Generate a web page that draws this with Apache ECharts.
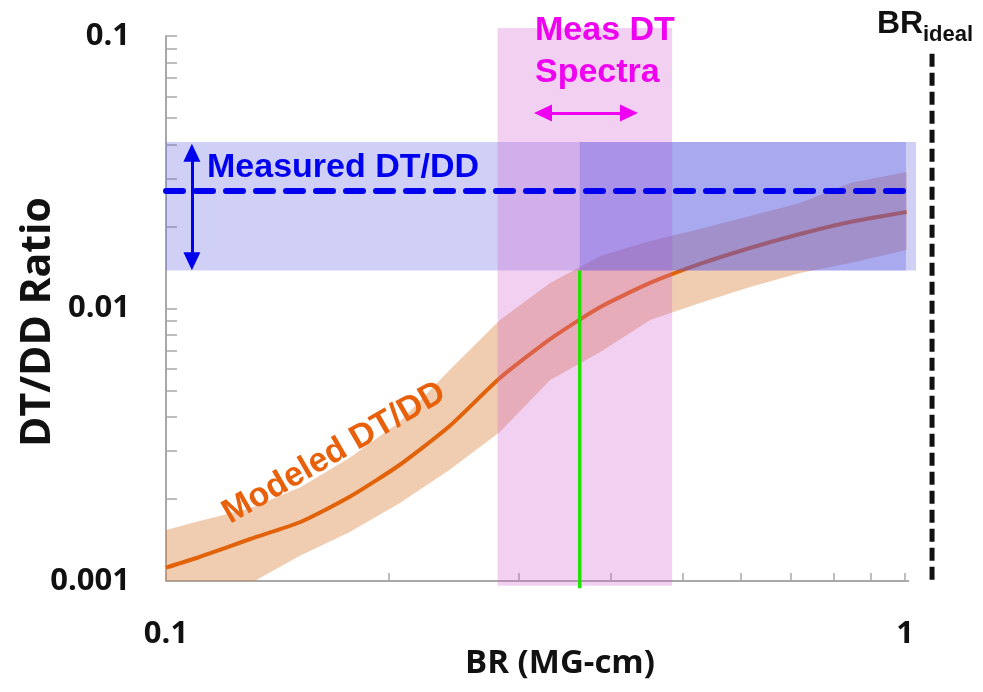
<!DOCTYPE html>
<html><head><meta charset="utf-8">
<script src="https://cdn.jsdelivr.net/npm/echarts@6/dist/echarts.min.js"></script>
<style>html,body{margin:0;padding:0;background:#fff}#c{width:983px;height:692px}</style>
</head><body><div id="c"></div>
<script>
// ---- data ----
const brValues      = [0.1, 0.111, 0.13, 0.152, 0.177, 0.207, 0.242, 0.283, 0.331, 0.387, 0.452, 0.528, 0.617, 0.721, 0.843, 1.005];
const modeledRatio  = [0.00112, 0.001225, 0.001426, 0.001646, 0.002033, 0.002665, 0.003705, 0.005559, 0.007727, 0.01013, 0.01241, 0.01457, 0.01667, 0.01877, 0.02077, 0.0226];
const modeledUpper  = [0.00154, 0.00166, 0.00185, 0.00221, 0.00283, 0.00383, 0.00595, 0.00907, 0.01241, 0.01559, 0.01769, 0.01957, 0.02185, 0.02439, 0.02887, 0.0317];
const modeledLower  = [0.00085, 0.00089, 0.00098, 0.00124, 0.00151, 0.00193, 0.00256, 0.00352, 0.00547, 0.00692, 0.00907, 0.01047, 0.0120, 0.0135, 0.01469, 0.0164];

const measuredLevel   = [0.027];
const measuredRange   = [0.0138, 0.0408];
const measuredBR      = [0.1, 1.035];
const measuredInnerBR = [0.363, 1.003];
const measuredLineBR  = [0.1, 1.005];
const spectraBR       = [0.281, 0.484];
const spectraRatio    = [0.00096, 0.107];
const crossBR         = [0.363];
const crossRatio      = [0.00094, 0.0138];
const idealBR         = [1.088];
const idealRatio      = [0.00101, 0.0889];
const measArrowBR     = [0.1084];
const measArrowRatio  = [0.0149, 0.0373];
const specArrowBR     = [0.3237, 0.4232];
const specArrowRatio  = [0.0522];

const xTickLabels = [0.1, 1];
const yTickLabels = [0.001, 0.01, 0.1];

// tick positions
const xTicks = [];
for (let k = 1; k <= 10; k++) xTicks.push(+(k * 0.1).toFixed(3));
const yTicks = [];
[0.001, 0.01].forEach(d => { for (let k = 1; k <= 9; k++) yTicks.push(+(k * d).toPrecision(3)); });
yTicks.push(0.1);

const fmt = v => String(Number((+v).toPrecision(6)));

const labelFont = { fontFamily: 'Open Sans', fontWeight: 'bold', fontSize: 31, color: '#111' };
const axisGray = '#a8a8a8';

const rects = [
  { x: measuredBR, y: measuredRange, color: 'rgba(100,100,225,0.30)' },
  { x: spectraBR, y: spectraRatio, color: 'rgba(210,100,210,0.30)' },
  { x: measuredInnerBR, y: measuredRange, color: 'rgba(80,80,225,0.30)' }
];

const chart = echarts.init(document.getElementById('c'), null, { renderer: 'canvas' });
chart.setOption({
  animation: false,
  backgroundColor: '#fff',
  grid: [
    { left: 166, top: 36, width: 742.2, height: 545, outerBoundsMode: 'none', containLabel: false },
    { left: 166, top: 14.42, width: 797.5, height: 579.05, outerBoundsMode: 'none', containLabel: false }
  ],
  xAxis: [
    { gridIndex: 0, type: 'log', logBase: 10, min: 0.1, max: 1.01,
      axisLine: { show: true, onZero: false, lineStyle: { color: axisGray, width: 2 } },
      axisTick: { show: true, inside: true, length: 8, customValues: xTicks, lineStyle: { color: axisGray, width: 1.5 } },
      axisLabel: Object.assign({ customValues: xTickLabels, margin: 38, formatter: fmt }, labelFont),
      splitLine: { show: false }, minorTick: { show: false } },
    { gridIndex: 1, type: 'log', logBase: 10, min: 0.1, max: 1.2, show: false }
  ],
  yAxis: [
    { gridIndex: 0, type: 'log', logBase: 10, min: 0.001, max: 0.1,
      axisLine: { show: true, onZero: false, lineStyle: { color: axisGray, width: 2 } },
      axisTick: { show: true, inside: true, length: 11, customValues: yTicks, lineStyle: { color: axisGray, width: 1.5 } },
      axisLabel: Object.assign({ customValues: yTickLabels, margin: 36, formatter: fmt, padding: [8, 0, 0, 0] }, labelFont),
      splitLine: { show: false }, minorTick: { show: false } },
    { gridIndex: 1, type: 'log', logBase: 10, min: 0.0009, max: 0.12, show: false }
  ],
  series: [
    { type: 'custom', xAxisIndex: 0, yAxisIndex: 0, silent: true, z: 1, clip: true,
      data: [[brValues[0], modeledRatio[0]]],
      renderItem: (params, api) => {
        const pts = [];
        brValues.forEach((x, i) => pts.push(api.coord([x, modeledUpper[i]])));
        for (let i = brValues.length - 1; i >= 0; i--) pts.push(api.coord([brValues[i], modeledLower[i]]));
        return { type: 'polygon', shape: { points: pts }, style: { fill: 'rgba(215,120,50,0.38)' } };
      } },
    { type: 'line', xAxisIndex: 0, yAxisIndex: 0, symbol: 'none', silent: true, z: 2, smooth: 0.2,
      lineStyle: { color: '#e2620a', width: 4 },
      data: brValues.map((x, i) => [x, modeledRatio[i]]) },
    { type: 'custom', xAxisIndex: 1, yAxisIndex: 1, silent: true, z: 3,
      data: rects.map((r, i) => [r.x[0], r.y[0], r.x[1], r.y[1], i]),
      renderItem: (params, api) => {
        const p0 = api.coord([api.value(0), api.value(1)]);
        const p1 = api.coord([api.value(2), api.value(3)]);
        return { type: 'rect',
          shape: { x: p0[0], y: p1[1], width: p1[0] - p0[0], height: p0[1] - p1[1] },
          style: { fill: rects[api.value(4)].color } };
      } },
    { type: 'line', xAxisIndex: 1, yAxisIndex: 1, symbol: 'none', silent: true, z: 4,
      lineStyle: { color: '#22e000', width: 3.5 },
      data: crossRatio.map(y => [crossBR[0], y]) },
    { type: 'line', xAxisIndex: 1, yAxisIndex: 1, symbol: 'none', silent: true, z: 5,
      lineStyle: { color: '#0000ee', width: 6, type: [17, 13], cap: 'round' },
      data: measuredLineBR.map(x => [x, measuredLevel[0]]) },
    { type: 'line', xAxisIndex: 1, yAxisIndex: 1, symbol: 'none', silent: true, z: 5,
      lineStyle: { color: '#111', width: 5, type: [13, 6] },
      data: idealRatio.map(y => [idealBR[0], y]) },
    { type: 'line', xAxisIndex: 1, yAxisIndex: 1, data: [], z: 6, silent: true,
      markLine: { silent: true, symbol: ['triangle', 'triangle'], symbolSize: [17, 18],
        label: { show: false }, animation: false,
        data: [
          [{ coord: [measArrowBR[0], measArrowRatio[1]], lineStyle: { color: '#0000ee', width: 3, type: 'solid' }, itemStyle: { color: '#0000ee' } },
           { coord: [measArrowBR[0], measArrowRatio[0]] }],
          [{ coord: [specArrowBR[0], specArrowRatio[0]], lineStyle: { color: '#f000f0', width: 3, type: 'solid' }, itemStyle: { color: '#f000f0' } },
           { coord: [specArrowBR[1], specArrowRatio[0]] }]
        ] } }
  ],
  graphic: [
    { type: 'text', x: 38, y: 322, rotation: Math.PI / 2, z: 100,
      style: { text: 'DT/DD Ratio', font: 'bold 41px "Open Sans"', fill: '#111', align: 'center', verticalAlign: 'middle' } },
    { type: 'text', x: 560, y: 664, z: 100,
      style: { text: 'BR (MG-cm)', font: 'bold 33px "Open Sans"', fill: '#111', align: 'center', verticalAlign: 'middle' } },
    { type: 'text', x: 207, y: 168, z: 100,
      style: { text: 'Measured DT/DD', font: 'bold 34px "Liberation Sans"', fill: '#0000f0', align: 'left', verticalAlign: 'middle' } },
    { type: 'text', x: 535, y: 31, z: 100,
      style: { text: 'Meas DT', font: 'bold 34px "Liberation Sans"', fill: '#f000f0', align: 'left', verticalAlign: 'middle' } },
    { type: 'text', x: 535, y: 73, z: 100,
      style: { text: 'Spectra', font: 'bold 34px "Liberation Sans"', fill: '#f000f0', align: 'left', verticalAlign: 'middle' } },
    { type: 'text', x: 334, y: 453, rotation: 30 * Math.PI / 180, z: 100,
      style: { text: 'Modeled DT/DD', font: 'bold 34px "Liberation Sans"', fill: '#e8600a', align: 'center', verticalAlign: 'middle' } },
    { type: 'text', x: 877, y: 24, z: 100,
      style: { text: 'BR', font: 'bold 32px "Liberation Sans"', fill: '#111', align: 'left', verticalAlign: 'middle' } },
    { type: 'text', x: 923, y: 35, z: 100,
      style: { text: 'ideal', font: 'bold 22px "Liberation Sans"', fill: '#111', align: 'left', verticalAlign: 'middle' } }
  ]
});
</script></body></html>
